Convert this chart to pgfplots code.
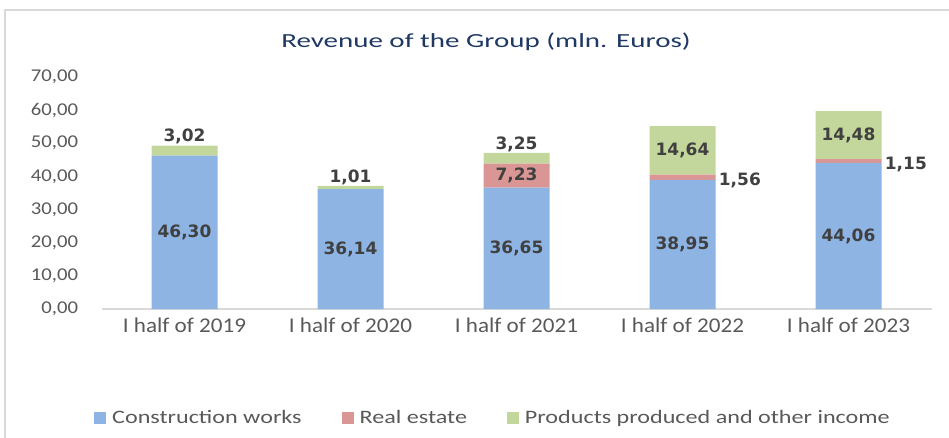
\documentclass[border=0pt]{standalone}
\usepackage{pgfplots}
\pgfplotsset{compat=1.18}
\usepackage{fontspec}
\setmainfont{Carlito}
\newfontfamily\titlefont[FakeStretch=1.45]{Carlito}
\newfontfamily\tickfont[FakeStretch=1.15]{Carlito}
\newfontfamily\xlabfont[FakeStretch=1.1]{Carlito}
\newfontfamily\legfont[FakeStretch=1.27]{Carlito}
\newfontfamily\datafont{DejaVu Sans}
\definecolor{cblue}{HTML}{8EB4E3}
\definecolor{cred}{HTML}{D99694}
\definecolor{cgreen}{HTML}{C3D69B}
\definecolor{ctick}{HTML}{595959}
\definecolor{ctitle}{HTML}{1F3864}
\definecolor{clab}{HTML}{404040}
\definecolor{cline}{HTML}{D9D9D9}
\pgfplotstableread{
x cons real prod
0 46.30 0    3.02
1 36.14 0    1.01
2 36.65 7.23 3.25
3 38.95 1.56 14.64
4 44.06 1.15 14.48
}\revenue
\pgfplotstableread{
x y lab
0 23.15 46,30
1 18.07 36,14
2 18.33 36,65
3 19.48 38,95
4 22.03 44,06
2 40.27 7,23
3 47.83 14,64
4 52.45 14,48
}\centerlabels
\pgfplotstableread{
x y lab
0 49.32 3,02
1 37.15 1,01
2 47.13 3,25
}\toplabels
\pgfplotstableread{
x y lab
3.2 39.73 1,56
4.2 44.64 1,15
}\rightlabels
\begin{document}
\begin{tikzpicture}
\path[use as bounding box] (0,0) rectangle (949bp,438bp);
\draw[cline, line width=1.5bp] (5bp,-5bp) -- (5bp,428bp) -- (960bp,428bp);
\node[text=ctitle, font=\titlefont\fontsize{20bp}{24bp}\selectfont] at (486bp,396bp) {Revenue of the Group (mln. Euros)};
\begin{axis}[
  at={(101.5bp,129bp)}, anchor=south west,
  scale only axis, width=830bp, height=232bp,
  xmin=-0.5, xmax=4.5, ymin=0, ymax=70,
  ybar stacked, bar width=66bp,
  axis line style={draw=none},
  major tick length=0pt,
  clip=false,
  ytick={0,10,...,70},
  xtick={0,1,2,3,4},
  xticklabels={I half of 2019,I half of 2020,I half of 2021,I half of 2022,I half of 2023},
  yticklabel style={text=ctick, font=\tickfont\fontsize{18bp}{20bp}\selectfont, anchor=east, xshift=-20bp},
  xticklabel style={text=ctick, font=\xlabfont\fontsize{21bp}{24bp}\selectfont, anchor=north, yshift=-5bp},
  /pgf/number format/.cd, fixed, fixed zerofill, precision=2, use comma, 1000 sep={}, assume math mode=true,
  /pgfplots/.cd,
  legend columns=3,
  legend style={at={(0.4717,-0.47)}, anchor=center, draw=none, fill=none,
    font=\legfont\fontsize{19bp}{22bp}\selectfont, text=ctick,
    /tikz/every odd column/.append style={column sep=4bp},
    /tikz/every even column/.append style={column sep=38bp}},
  legend image code/.code={\fill[#1, draw=none] (0bp,-6bp) rectangle (12bp,6bp);},
]
\addplot[fill=cblue, draw=none] table[x=x, y=cons] {\revenue};
\addplot[fill=cred, draw=none] table[x=x, y=real] {\revenue};
\addplot[fill=cgreen, draw=none] table[x=x, y=prod] {\revenue};
\legend{Construction works, Real estate, Products produced and other income}
\draw[cline, line width=1.5bp] (axis cs:-0.5,0) -- (axis cs:4.5,0);
\end{axis}
\begin{axis}[
  at={(101.5bp,129bp)}, anchor=south west,
  scale only axis, width=830bp, height=232bp,
  xmin=-0.5, xmax=4.5, ymin=0, ymax=70,
  axis lines=none, clip=false,
  nodes near coords={\pgfplotspointmeta},
  point meta=explicit symbolic,
  every node near coord/.append style={text=clab, font=\datafont\bfseries\fontsize{17bp}{20bp}\selectfont, inner sep=1bp},
]
\addplot[only marks, mark=none, nodes near coords style={anchor=center}] table[x=x, y=y, meta=lab] {\centerlabels};
\addplot[only marks, mark=none, nodes near coords style={anchor=south}] table[x=x, y=y, meta=lab] {\toplabels};
\addplot[only marks, mark=none, nodes near coords style={anchor=west, xshift=2bp, yshift=-3bp}] table[x=x, y=y, meta=lab] {\rightlabels};
\end{axis}
\end{tikzpicture}
\end{document}
